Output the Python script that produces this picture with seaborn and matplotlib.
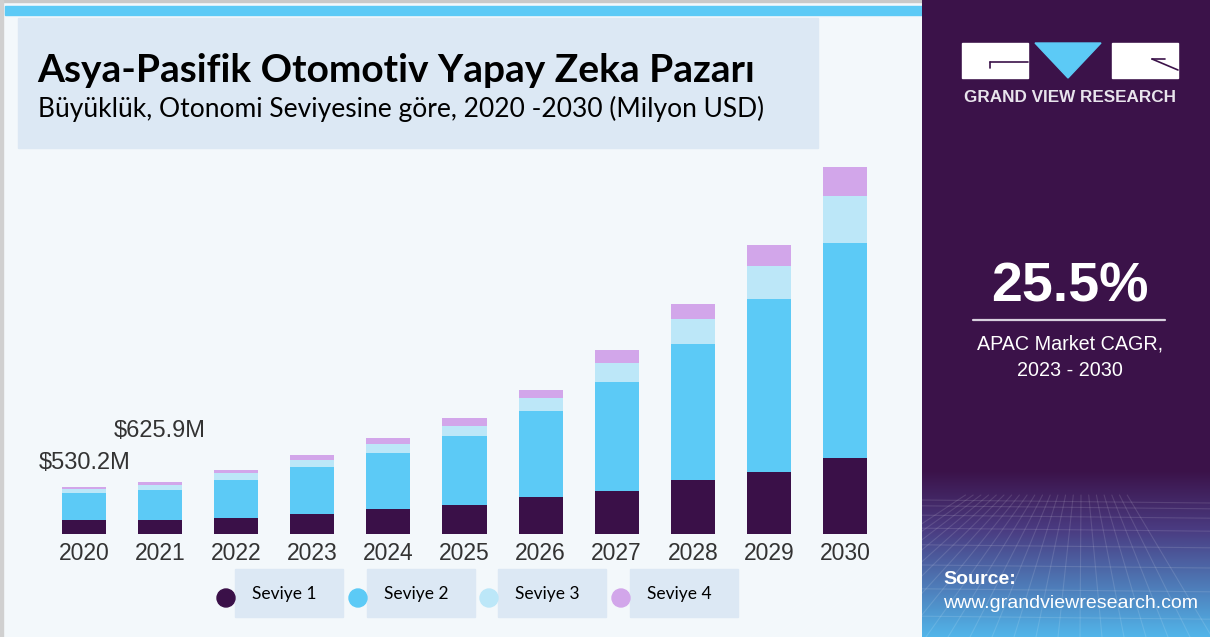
import numpy as np
import pandas as pd
import seaborn as sns
import matplotlib
matplotlib.use("Agg")
import matplotlib.pyplot as plt
from matplotlib.patches import Rectangle, Circle, Polygon

# Data (million USD)
years = ["2020", "2021", "2022", "2023", "2024", "2025", "2026", "2027", "2028", "2029", "2030"]
seviye_1 = [158, 158, 184, 222, 282, 327, 414, 485, 609, 696, 854]
seviye_2 = [305, 338, 425, 530, 635, 782, 973, 1226, 1534, 1955, 2432]
seviye_3 = [42, 53, 76, 82, 98, 113, 143, 221, 279, 372, 527]
seviye_4 = [25, 32, 37, 56, 64, 83, 94, 143, 169, 237, 324]
series_names = ["Seviye 1", "Seviye 2", "Seviye 3", "Seviye 4"]
callouts = ["$530.2M", "$625.9M"]

colors = ["#3a1048", "#5ccaf6", "#bce7f8", "#d2a6ea"]
bg = "#f3f8fb"
purple = "#3b1249"

sns.set_theme(style="white")
plt.rcParams['font.family'] = ['Liberation Sans', 'DejaVu Sans']

fig = plt.figure(figsize=(12.1, 6.37), dpi=100)
fig.patch.set_facecolor(bg)

# background / decoration layer in pixel coordinates
bgax = fig.add_axes([0, 0, 1, 1], zorder=0)
bgax.set_xlim(0, 1210)
bgax.set_ylim(637, 0)
bgax.axis("off")

bgax.add_patch(Rectangle((0, 0), 1210, 2, color="#c9c9c9"))
bgax.add_patch(Rectangle((0, 0), 3, 637, color="#d0d0d0"))
bgax.add_patch(Rectangle((5, 6), 917, 9, color="#5ccaf6"))
bgax.add_patch(Rectangle((18, 18), 800, 130, color="#dce8f4"))

# right panel with gradient at the bottom
h = 637
top = np.array([0x3b, 0x12, 0x49]) / 255
mid = np.array([0x4a, 0x3c, 0x82]) / 255
bot = np.array([0x52, 0xb6, 0xea]) / 255
grad = np.zeros((h, 1, 3))
for i in range(h):
    if i < 470:
        grad[i, 0] = top
    elif i < 530:
        t = (i - 470) / 60
        grad[i, 0] = top * (1 - t) + mid * t
    else:
        t = (i - 530) / (h - 530)
        grad[i, 0] = mid * (1 - t) + bot * t
bgax.imshow(grad, extent=[922, 1210, 637, 0], aspect="auto", zorder=1)

# faint grid texture
for k in range(9):
    yy = 500 + k * k * 1.8 + k * 4
    bgax.plot([922, 1210], [yy, yy + 3], color="white", alpha=0.12, lw=0.8, zorder=2)
for k in range(-6, 16):
    x0 = 922 + k * 22
    bgax.plot([1060 + (x0 - 1060) * 0.35, x0 - 40], [495, 637], color="white", alpha=0.12, lw=0.8, zorder=2)

# logo
bgax.add_patch(Rectangle((962, 43), 66, 35, color="white", zorder=3))
bgax.plot([990, 1028], [62, 62], color=purple, lw=1.2, zorder=4)
bgax.plot([990, 990], [62, 68], color=purple, lw=1.2, zorder=4)
bgax.add_patch(Polygon([[1035, 43], [1101, 43], [1068, 78]], color="#5ccaf6", zorder=3))
bgax.add_patch(Rectangle((1112, 43), 66, 35, color="white", zorder=3))
bgax.plot([1152, 1178], [59, 70], color=purple, lw=1.2, zorder=4)
bgax.plot([1152, 1165], [59, 59], color=purple, lw=1.2, zorder=4)
bgax.text(1070, 98, "GRAND VIEW RESEARCH", color="#e8e4ec", fontsize=12.3,
          fontweight="bold", ha="center", va="center", zorder=4)

bgax.text(1070, 288, "25.5%", color="white", fontsize=40, fontweight="bold",
          ha="center", va="center", zorder=4)
bgax.plot([973, 1165], [320, 320], color="#d8d0de", lw=1.6, zorder=4)
bgax.text(1070, 344, "APAC Market CAGR,", color="white", fontsize=14.2,
          ha="center", va="center", zorder=4)
bgax.text(1070, 370, "2023 - 2030", color="white", fontsize=14.2,
          ha="center", va="center", zorder=4)
bgax.text(943, 579, "Source:", color="white", fontsize=14, fontweight="bold",
          ha="left", va="center", zorder=4)
bgax.text(943, 603, "www.grandviewresearch.com", color="white", fontsize=14,
          ha="left", va="center", zorder=4)

# title
bgax.text(37, 70, "Asya-Pasifik Otomotiv Yapay Zeka Pazarı", fontsize=28,
          fontweight="bold", family=["Lato", "DejaVu Sans"], color="black",
          ha="left", va="center")
bgax.text(38, 109, "Büyüklük, Otonomi Seviyesine göre, 2020 -2030 (Milyon USD)",
          fontsize=19, family=["Lato", "DejaVu Sans"], color="black",
          ha="left", va="center")

# legend
box_x = [235, 367, 498, 630]
for name, c, bx in zip(series_names, colors, box_x):
    bgax.add_patch(Rectangle((bx, 569), 108, 48, color="#dce8f4"))
    bgax.add_patch(Circle((bx - 9, 598), 9, color=c, zorder=3))
    bgax.text(bx + 17, 594, name, fontsize=12.5, family=["Lato", "DejaVu Sans"],
              color="black", ha="left", va="center")

# bars
ax = fig.add_axes([46 / 1210, (637 - 534) / 637, (883 - 46) / 1210, (534 - 160) / 637], zorder=2)
ax.patch.set_alpha(0)

df = pd.DataFrame({"year": years, "s1": seviye_1, "s2": seviye_2, "s3": seviye_3, "s4": seviye_4})
df["c1"] = df["s1"]
df["c2"] = df["c1"] + df["s2"]
df["c3"] = df["c2"] + df["s3"]
df["c4"] = df["c3"] + df["s4"]

# draw cumulative totals back to front to get the stack
for col, c in zip(["c4", "c3", "c2", "c1"], colors[::-1]):
    sns.barplot(data=df, x="year", y=col, color=c, width=0.58, saturation=1,
                linewidth=0, ax=ax)

ax.set_xlim(-0.5, 10.5)
ax.set_ylim(0, 374 * 11.28)
for s in ax.spines.values():
    s.set_visible(False)
ax.set_yticks([])
ax.set_xlabel("")
ax.set_ylabel("")
ax.tick_params(axis="x", length=0, pad=6, labelsize=16.5, labelcolor="#333333")

bgax.text(39, 463, callouts[0], fontsize=17, color="#333333", ha="left", va="center")
bgax.text(114, 431, callouts[1], fontsize=17, color="#333333", ha="left", va="center")

fig.savefig("out.png", dpi=100, facecolor=fig.get_facecolor())
